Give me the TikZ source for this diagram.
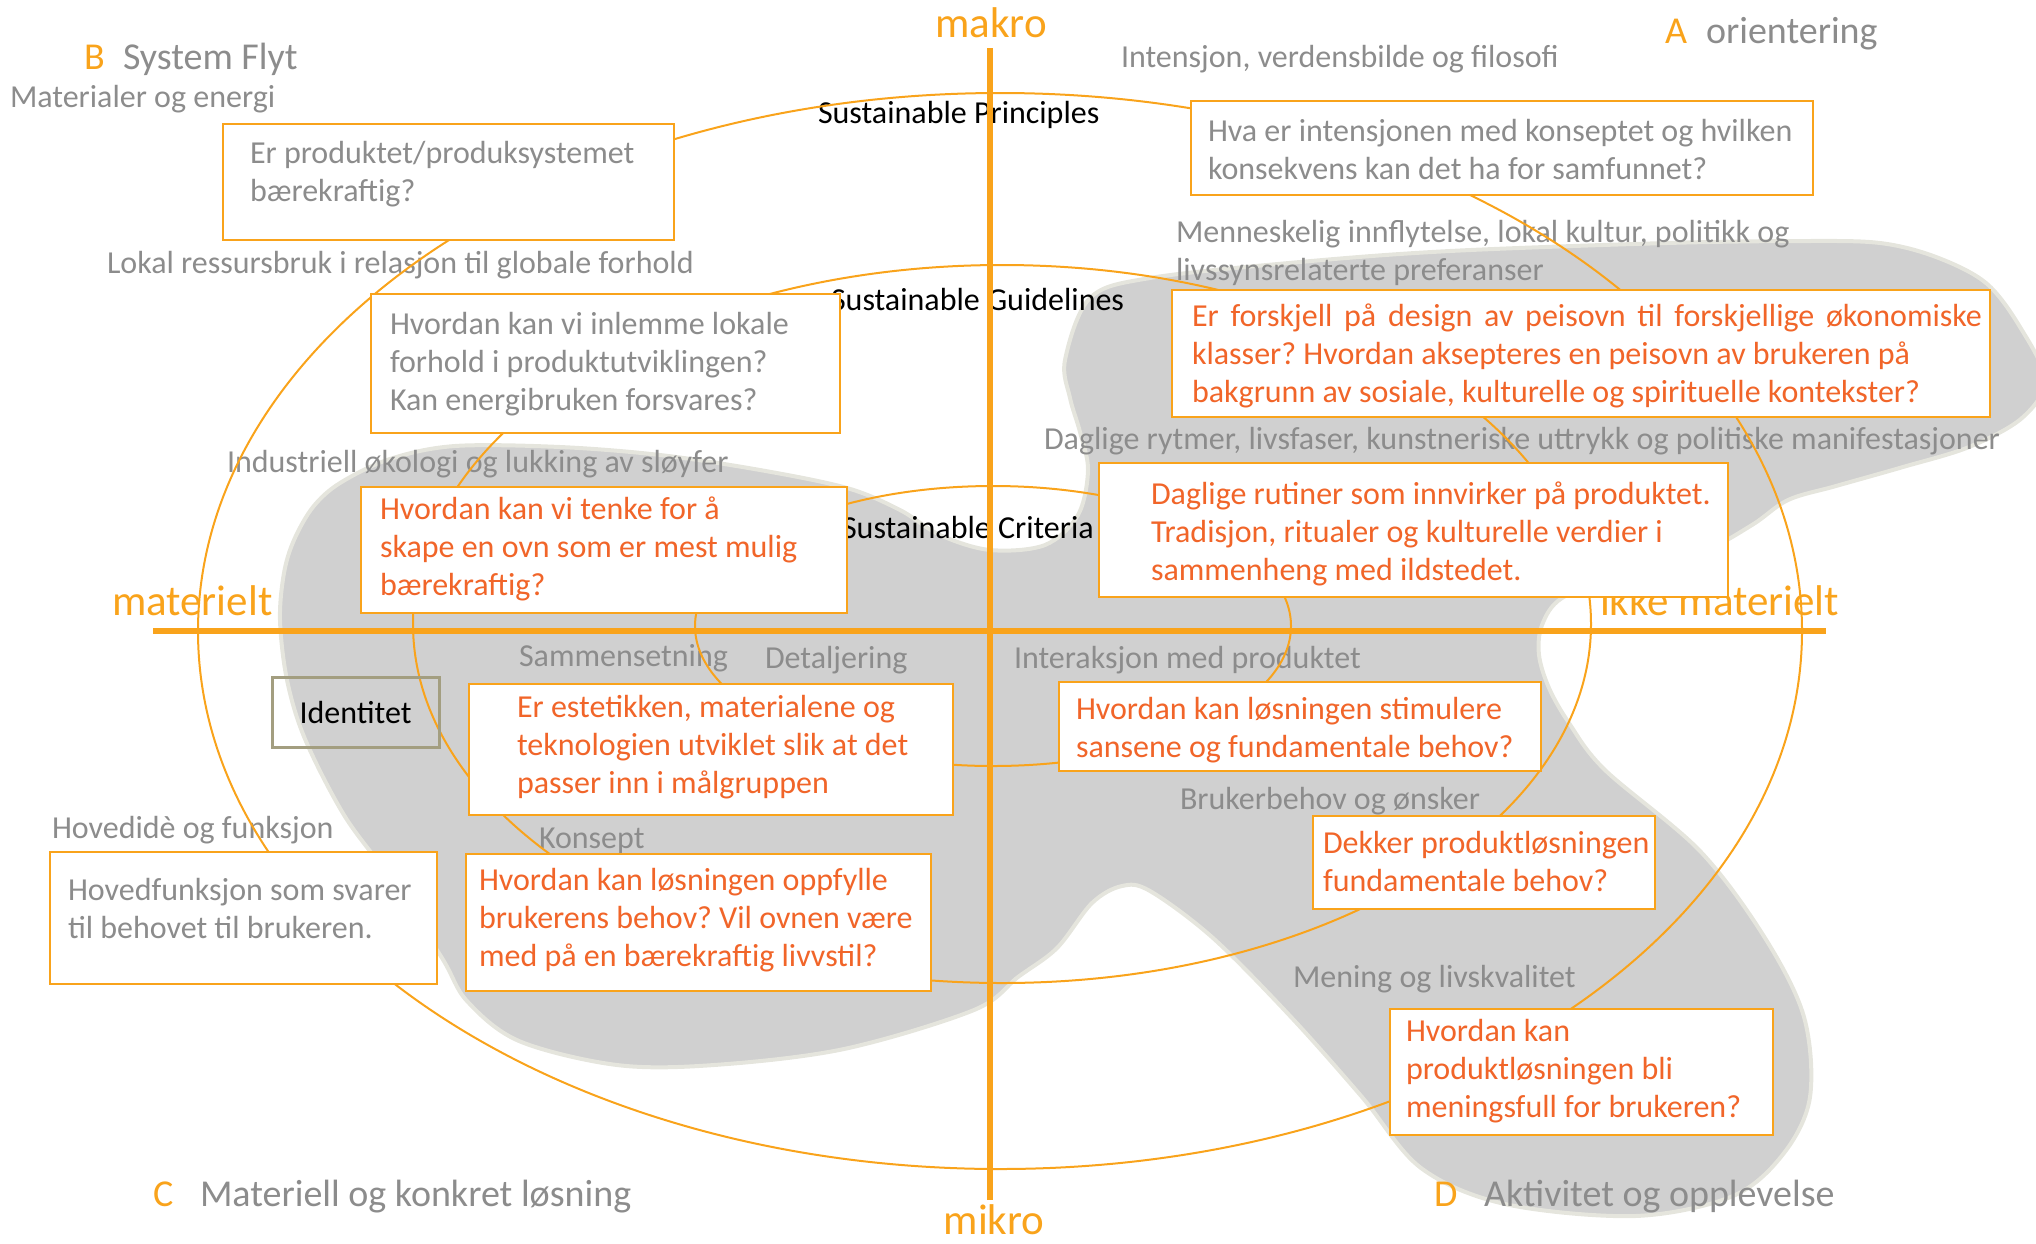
\documentclass[tikz,border=0pt]{standalone}
\usepackage{fontspec}
\setmainfont{Carlito}
\frenchspacing
\definecolor{amber}{RGB}{249,163,27}
\definecolor{flame}{RGB}{241,101,41}
\definecolor{labelgray}{RGB}{140,140,140}
\definecolor{blobgray}{RGB}{208,208,208}
\definecolor{blobrim}{RGB}{229,229,221}
\definecolor{olivegray}{RGB}{163,158,128}

\tikzset{
  ring/.style={draw=amber, line width=2pt},
  axisline/.style={draw=amber, line width=6pt},
  qbox/.style={draw=amber, line width=2pt, fill=white, inner sep=0pt, outer sep=0pt},
  body/.style={font=\fontsize{32}{38}\selectfont, inner sep=0pt, outer sep=0pt},
  btxt/.style={body, align=left, anchor=north west},
  graylab/.style={body, text=labelgray, anchor=base west},
  blacklab/.style={body, text=black, anchor=base west},
  corner/.style={font=\fontsize{38}{46}\selectfont, inner sep=0pt, outer sep=0pt, anchor=base west},
  axislab/.style={font=\fontsize{43}{52}\selectfont, text=amber, inner sep=0pt, outer sep=0pt},
  idbox/.style={draw=olivegray, line width=3pt, inner sep=0pt, font=\fontsize{32}{38}\selectfont},
}

% framed question box: name, x1, y1, x2, y2
\newcommand\qframe[5]{%
  \node[qbox, minimum width={(#4-#2)*1pt}, minimum height={(#5-#3)*1pt}] (#1) at ({(#2+#4)/2},{(#3+#5)/2}) {};}
% text inside a box: name, x, first baseline, colour, lines
\newcommand\qtext[5]{%
  \node[btxt, text=#4] (#1) at (#2,{#3-26.6}) {\strut #5};}

\begin{document}
\begin{tikzpicture}[x=1pt,y=-1pt]
\useasboundingbox (0,0) rectangle (2036,1243);

% grey background shape
\begin{scope}
\clip (0,0) rectangle (2036,1243);
\path[fill=blobgray, draw=blobrim, line width=4pt]
  plot[smooth cycle, tension=0.55] coordinates {
  (1065,360) (1090,298) (1150,278) (1300,262) (1450,251) (1667,243) (1803,241)
  (1880,243) (1936,257) (1986,283) (2020,327) (2045,380) (2022,418) (1969,447)
  (1903,467) (1836,486) (1788,500) (1752,525) (1700,553) (1620,575) (1562,598)
  (1542,625) (1539,655) (1549,688) (1569,723) (1605,770) (1700,851) (1765,938)
  (1804,1017) (1810,1097) (1784,1153) (1733,1196) (1635,1216) (1505,1204)
  (1421,1168) (1362,1097) (1291,1017) (1213,938) (1150,891) (1122,886)
  (1092,903) (1057,948) (1018,977) (974,1010) (844,1049) (714,1065) (617,1065)
  (519,1041) (467,1001) (442,958) (390,878) (344,815) (305,739) (287,680)
  (280,620) (284,573) (294,540) (313,507) (340,483) (390,459) (455,446)
  (560,447) (660,455) (760,470) (847,488) (900,510) (940,535) (990,550)
  (1045,545) (1078,515) (1088,470) (1080,432) (1070,398)};
\end{scope}

% axis labels
\node[axislab, anchor=base] (makro) at (991,37.5) {makro};
\node[axislab, anchor=base] (mikro) at (994,1234) {mikro};
\node[axislab, anchor=base west] (mat) at (112,615) {materielt};
\node[axislab, anchor=base west] (ikkemat) at (1600,615) {ikke materielt};

% corner titles
\node[corner, text=amber] (lB) at (84,69) {B};
\node[corner, text=labelgray] (tB) at (123,69) {System Flyt};
\node[corner, text=amber] (lA) at (1665,43.5) {A};
\node[corner, text=labelgray] (tA) at (1706,43.5) {orientering};
\node[corner, text=amber] (lC) at (153,1206) {C};
\node[corner, text=labelgray] (tC) at (200,1206) {Materiell og konkret løsning};
\node[corner, text=amber] (lD) at (1434,1206) {D};
\node[corner, text=labelgray] (tD) at (1484,1206) {Aktivitet og opplevelse};

% grey captions
\node[graylab] (g1) at (10,107.5) {Materialer og energi};
\node[graylab] (g2) at (1121,67) {Intensjon, verdensbilde og filosofi};
\node[graylab] (g3) at (107,273) {Lokal ressursbruk i relasjon til globale forhold};
\node[btxt, text=labelgray] (g4) at (1176,{242-26.6}) {\strut Menneskelig innflytelse, lokal kultur, politikk og\\livssynsrelaterte preferanser};
\node[graylab] (g5) at (227,472.5) {Industriell økologi og lukking av sløyfer};
\node[graylab] (g6) at (1044,449) {Daglige rytmer, livsfaser, kunstneriske uttrykk og politiske manifestasjoner};
\node[graylab] (g7) at (519,666) {Sammensetning};
\node[graylab] (g8) at (765,668) {Detaljering};
\node[graylab] (g9) at (1014,668) {Interaksjon med produktet};
\node[graylab] (g10) at (1180,809) {Brukerbehov og ønsker};
\node[graylab] (g11) at (52,838.5) {Hovedidè og funksjon};
\node[graylab] (g12) at (539,848.5) {Konsept};
\node[graylab] (g13) at (1293,987.5) {Mening og livskvalitet};

% ring titles
\node[blacklab] (sp) at (818,123) {Sustainable Principles};
\node[blacklab] (sg) at (831,310) {Sustainable Guidelines};
\node[blacklab] (sc) at (842,538.5) {Sustainable Criteria};

% rings
\coordinate (cOuter) at (1000,631);
\coordinate (cMiddle) at (1002,624);
\coordinate (cInner) at (993,626);
\draw[ring] (cOuter) ellipse [x radius=802, y radius=538];
\draw[ring] (cMiddle) ellipse [x radius=589, y radius=359];
\draw[ring] (cInner) ellipse [x radius=298, y radius=140];

% axes
\coordinate (axN) at (990,48);
\coordinate (axS) at (990,1200);
\coordinate (axW) at (153,631);
\coordinate (axE) at (1826,631);
\draw[axisline] (axN) -- (axS);
\draw[axisline] (axW) -- (axE);

% question boxes
\qframe{b1}{223}{124}{674}{240}
\qtext{b1t}{250}{163}{labelgray}{Er produktet/produksystemet\\bærekraftig?}
\qframe{b2}{1191}{101}{1813}{195}
\qtext{b2t}{1208}{141.6}{labelgray}{Hva er intensjonen med konseptet og hvilken\\konsekvens kan det ha for samfunnet?}
\qframe{b3}{371}{294}{840}{433}
\qtext{b3t}{390}{334}{labelgray}{Hvordan kan vi inlemme lokale\\forhold i produktutviklingen?\\Kan energibruken forsvares?}
\qframe{b4}{1172}{290}{1990}{417}
\qtext{b4t}{1192}{326}{flame}{\makebox[790pt][s]{Er forskjell på design av peisovn til forskjellige økonomiske}\\klasser? Hvordan aksepteres en peisovn av brukeren på\\bakgrunn av sosiale, kulturelle og spirituelle kontekster?}
\qframe{b5}{361}{487}{847}{613}
\qtext{b5t}{380}{519}{flame}{Hvordan kan vi tenke for å\\skape en ovn som er mest mulig\\bærekraftig?}
\qframe{b6}{1099}{463}{1728}{597}
\qtext{b6t}{1151}{504}{flame}{Daglige rutiner som innvirker på produktet.\\Tradisjon, ritualer og kulturelle verdier i\\sammenheng med ildstedet.}
\node[idbox, minimum width=167pt, minimum height=70pt] (bid) at (355.5,712) {Identitet};
\qframe{b8}{469}{684}{953}{815}
\qtext{b8t}{517}{717}{flame}{Er estetikken, materialene og\\teknologien utviklet slik at det\\passer inn i målgruppen}
\qframe{b9}{1059}{682}{1541}{771}
\qtext{b9t}{1076}{719}{flame}{Hvordan kan løsningen stimulere\\sansene og fundamentale behov?}
\qframe{b10}{50}{852}{437}{984}
\qtext{b10t}{68}{900}{labelgray}{Hovedfunksjon som svarer\\til behovet til brukeren.}
\qframe{b11}{466}{854}{931}{991}
\qtext{b11t}{479}{890}{flame}{Hvordan kan løsningen oppfylle\\brukerens behov? Vil ovnen være\\med på en bærekraftig livvstil?}
\qframe{b12}{1313}{816}{1655}{909}
\qtext{b12t}{1323}{853}{flame}{Dekker produktløsningen\\fundamentale behov?}
\qframe{b13}{1390}{1009}{1773}{1135}
\qtext{b13t}{1406}{1041}{flame}{Hvordan kan\\produktløsningen bli\\meningsfull for brukeren?}
\end{tikzpicture}
\end{document}
